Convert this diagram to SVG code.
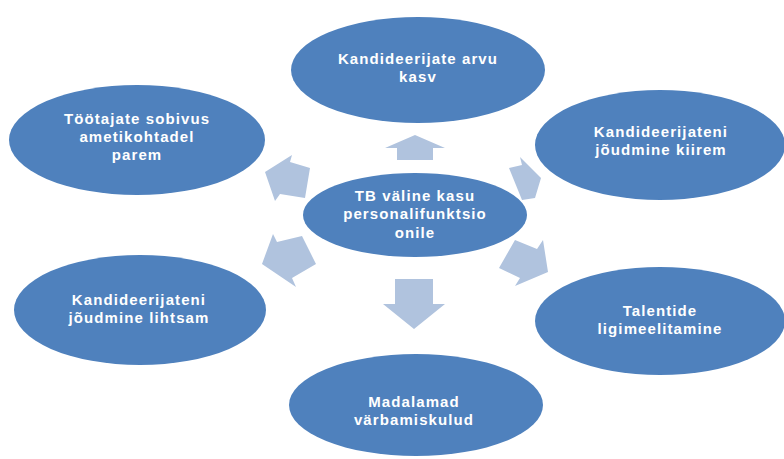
<svg xmlns="http://www.w3.org/2000/svg" width="784" height="459" viewBox="0 0 784 459">
<style>
.node ellipse{fill:#4F81BD;}
.node text{font-family:"Liberation Sans",Arial,sans-serif;font-weight:bold;font-size:15px;fill:#FFFFFF;text-anchor:middle;letter-spacing:1.1px;}
.arrow{fill:#B0C3DE;stroke:none;}
</style>
<rect width="784" height="459" fill="#FFFFFF"/>
<g id="connectors">
<polygon class="arrow" points="415,135 445,148 433,148 433,160 397,160 397,148 385,148"/>
<polygon class="arrow" points="395,279 433,279 433,304 445,304 414,329 383,304 395,304"/>
<polygon class="arrow" points="265,172 292,155 290,162 310,168 305,198 280,194 275,201"/>
<polygon class="arrow" points="262,264 273,234 277,242 302,236 316,264 292,278 296,287"/>
<polygon class="arrow" points="509,168 522,165 520,157 541,178 535,198 522,200"/>
<polygon class="arrow" points="515,240 537,249 543,240 548,272 515,286 520,278 499,268"/>
</g>
<g id="center" class="node">
<ellipse cx="415" cy="215" rx="112" ry="42"/>
<text x="415" y="201">TB väline kasu</text>
<text x="415" y="219">personalifunktsio</text>
<text x="415" y="238">onile</text>
</g>
<g id="top" class="node">
<ellipse cx="418" cy="70" rx="127" ry="53"/>
<text x="418" y="64">Kandideerijate arvu</text>
<text x="418" y="82">kasv</text>
</g>
<g id="top-left" class="node">
<ellipse cx="137" cy="140" rx="128" ry="55"/>
<text x="137" y="124">Töötajate sobivus</text>
<text x="137" y="142">ametikohtadel</text>
<text x="137" y="160">parem</text>
</g>
<g id="top-right" class="node">
<ellipse cx="660" cy="145" rx="125" ry="55"/>
<text x="661" y="137">Kandideerijateni</text>
<text x="661" y="155">jõudmine kiirem</text>
</g>
<g id="bottom-left" class="node">
<ellipse cx="140" cy="310" rx="126" ry="55"/>
<text x="139" y="305">Kandideerijateni</text>
<text x="139" y="323">jõudmine lihtsam</text>
</g>
<g id="bottom-right" class="node">
<ellipse cx="660" cy="321" rx="125" ry="54"/>
<text x="660" y="316">Talentide</text>
<text x="660" y="334">ligimeelitamine</text>
</g>
<g id="bottom" class="node">
<ellipse cx="416" cy="405" rx="127" ry="51"/>
<text x="414" y="407">Madalamad</text>
<text x="414" y="425">värbamiskulud</text>
</g>
</svg>
